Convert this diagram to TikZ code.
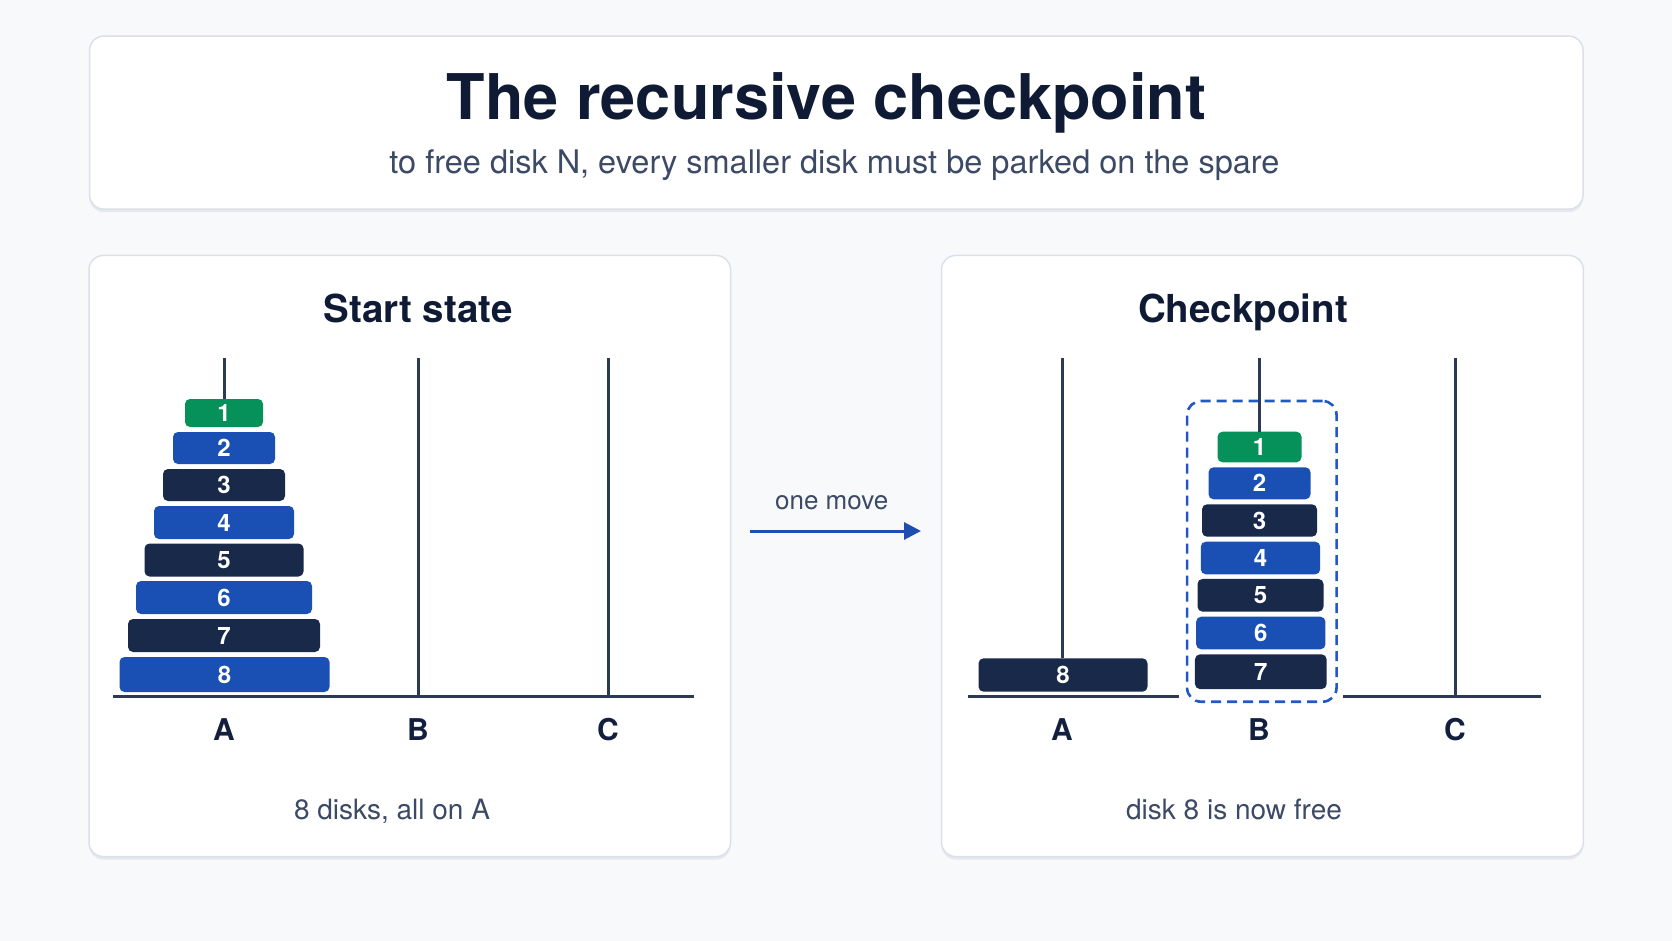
\documentclass[tikz,border=0pt]{standalone}
\usepackage{fontspec}
\setmainfont{TeX Gyre Heros}
\usetikzlibrary{arrows.meta,shadows}
\definecolor{bg}{HTML}{F8F9FA}
\definecolor{panelborder}{HTML}{DCE0E8}
\definecolor{shadowc}{HTML}{D9DDE5}
\definecolor{titlec}{HTML}{0F1B35}
\definecolor{subc}{HTML}{3C4A66}
\definecolor{labc}{HTML}{13203D}
\definecolor{pegc}{HTML}{2C3A57}
\definecolor{blueD}{HTML}{1A50B4}
\definecolor{navyD}{HTML}{18294A}
\definecolor{greenD}{HTML}{06915A}
\definecolor{dashc}{HTML}{2158C4}
\definecolor{arrowc}{HTML}{1E4FB0}
\begin{document}
\begin{tikzpicture}[x=1pt,y=-1pt,
  panel/.style={draw=panelborder, line width=1.5pt, fill=white, rounded corners=14pt, inner sep=0pt,
    drop shadow={shadow xshift=0pt, shadow yshift=-3pt, fill=shadowc, opacity=0.6}},
  disk/.style={rounded corners=5pt, inner sep=0pt, text=white, font=\bfseries\fontsize{24}{24}\selectfont},
  peg/.style={draw=pegc, line width=3pt},
  base/.style={draw=pegc, line width=3pt},
  lab/.style={text=labc, font=\bfseries\fontsize{30}{30}\selectfont, anchor=base, inner sep=0pt},
  captxt/.style={text=subc, font=\fontsize{28}{28}\selectfont, anchor=base, inner sep=0pt},
  ptitle/.style={text=titlec, font=\bfseries\fontsize{38.5}{38.5}\selectfont, anchor=base, inner sep=0pt}
]
\useasboundingbox (0,0) rectangle (1672,941);
\fill[bg] (0,0) rectangle (1672,941);

% panels
\node[panel, minimum width=1493.4pt, minimum height=173pt] (titlebox) at (836.3,122.6) {};
\node[panel, minimum width=641.5pt, minimum height=601pt] (leftp) at (409.75,556) {};
\node[panel, minimum width=641.8pt, minimum height=601pt] (rightp) at (1262.4,556) {};

% title texts
\node[text=titlec, font=\bfseries\fontsize{63}{63}\selectfont, anchor=base, inner sep=0pt] (title) at (826.5,119.5) {The recursive checkpoint};
\node[text=subc, font=\fontsize{32.5}{32.5}\selectfont, anchor=base, inner sep=0pt] (subtitle) at (834.5,174) {to free disk N, every smaller disk must be parked on the spare};

% panel titles
\node[ptitle] (lt) at (418,322.5) {Start state};
\node[ptitle] (rt) at (1243,322.5) {Checkpoint};

% ---------- left panel ----------
\coordinate (LbaseL) at (113,696);
\coordinate (LbaseR) at (694,696);
\draw[base] (LbaseL) -- (LbaseR);
\coordinate (LAtop) at (224,358);
\coordinate (LBtop) at (418,358);
\coordinate (LCtop) at (608,358);
\coordinate (LBbot) at (418,696);
\coordinate (LCbot) at (608,696);
\draw[peg] (LBtop) -- (LBbot);
\draw[peg] (LCtop) -- (LCbot);

\node[disk, fill=greenD, minimum width=78pt, minimum height=28pt] (L1) at (224,413) {1};
\node[disk, fill=blueD, minimum width=102pt, minimum height=32pt] (L2) at (224,448) {2};
\node[disk, fill=navyD, minimum width=122pt, minimum height=32pt] (L3) at (224,485) {3};
\node[disk, fill=blueD, minimum width=140pt, minimum height=33pt] (L4) at (224,522.5) {4};
\node[disk, fill=navyD, minimum width=159pt, minimum height=33pt] (L5) at (224,560) {5};
\node[disk, fill=blueD, minimum width=176pt, minimum height=33pt] (L6) at (224,597.5) {6};
\node[disk, fill=navyD, minimum width=192pt, minimum height=33pt] (L7) at (224,635.5) {7};
\node[disk, fill=blueD, minimum width=210pt, minimum height=35pt] (L8) at (224.5,674.5) {8};
\draw[peg] (LAtop) -- (L1.north);

\node[lab] (LA) at (224,740) {A};
\node[lab] (LB) at (418,740) {B};
\node[lab] (LC) at (608,740) {C};
\node[captxt] (lcap) at (392,819.3) {8 disks, all on A};

% ---------- arrow ----------
\node[text=subc, font=\fontsize{26}{26}\selectfont, anchor=base, inner sep=0pt] (move) at (831.7,509.3) {one move};
\coordinate (arrS) at (750,531);
\coordinate (arrE) at (921,531);
\draw[draw=arrowc, line width=3pt, -{Triangle[length=17pt,width=17pt]}] (arrS) -- (arrE);

% ---------- right panel ----------
\coordinate (Rb1L) at (967.7,696);
\coordinate (Rb1R) at (1179.2,696);
\coordinate (Rb2L) at (1343.3,696);
\coordinate (Rb2R) at (1541,696);
\draw[base] (Rb1L) -- (Rb1R);
\draw[base] (Rb2L) -- (Rb2R);

\node[draw=dashc, line width=2.6pt, dash pattern=on 10pt off 6pt, rounded corners=14pt,
      minimum width=149.5pt, minimum height=300.7pt, inner sep=0pt] (grp) at (1261.8,551.35) {};

\coordinate (RAtop) at (1062,358);
\coordinate (RBtop) at (1259,358);
\coordinate (RCtop) at (1455,358);
\coordinate (RCbot) at (1455,696);
\draw[peg] (RCtop) -- (RCbot);

\node[disk, fill=navyD, minimum width=169pt, minimum height=33.4pt] (R8) at (1063,675) {8};
\node[disk, fill=greenD, minimum width=84pt, minimum height=30.6pt] (R1) at (1259.5,447) {1};
\node[disk, fill=blueD, minimum width=102pt, minimum height=32pt] (R2) at (1259.5,483.3) {2};
\node[disk, fill=navyD, minimum width=115pt, minimum height=32.4pt] (R3) at (1259.5,520.5) {3};
\node[disk, fill=blueD, minimum width=119.4pt, minimum height=32.6pt] (R4) at (1260.5,558) {4};
\node[disk, fill=navyD, minimum width=126pt, minimum height=32.7pt] (R5) at (1260.5,595.3) {5};
\node[disk, fill=blueD, minimum width=129.3pt, minimum height=32.6pt] (R6) at (1260.8,633) {6};
\node[disk, fill=navyD, minimum width=131.7pt, minimum height=34.7pt] (R7) at (1260.8,671.7) {7};
\draw[peg] (RAtop) -- (R8.north -| RAtop);
\draw[peg] (RBtop) -- (R1.north -| RBtop);

\node[lab] (RA) at (1062,740) {A};
\node[lab] (RB) at (1259,740) {B};
\node[lab] (RC) at (1455,740) {C};
\node[captxt] (rcap) at (1234,819.3) {disk 8 is now free};
\end{tikzpicture}
\end{document}
